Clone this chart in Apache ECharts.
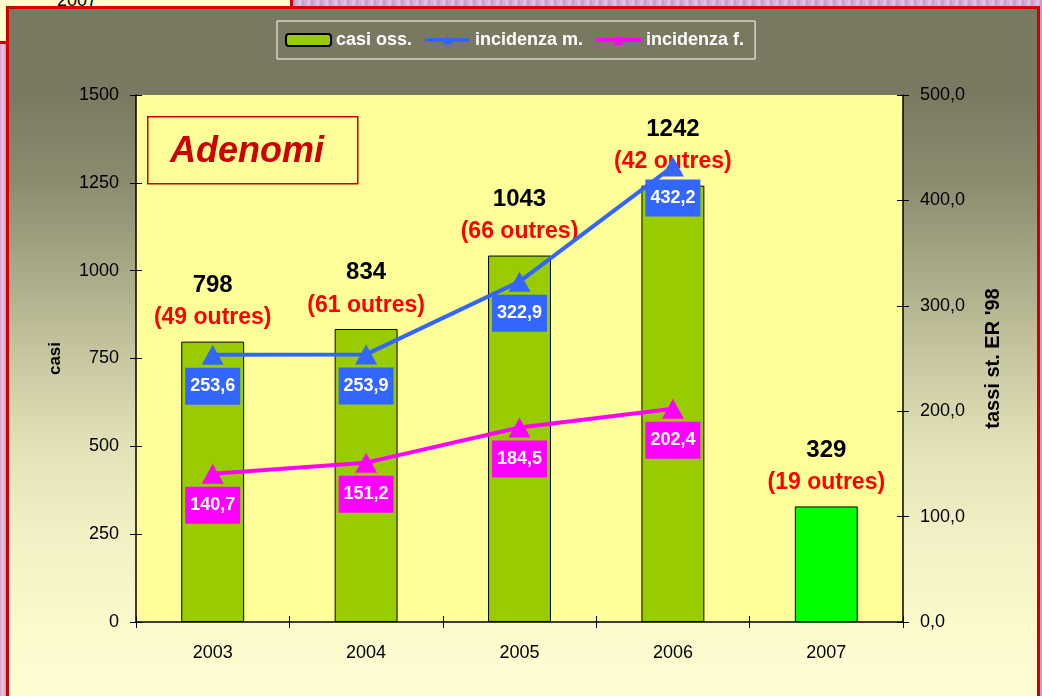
<!DOCTYPE html>
<html>
<head>
<meta charset="utf-8">
<title>Adenomi</title>
<script src="https://cdn.jsdelivr.net/npm/echarts@6/dist/echarts.min.js"></script>
<style>
html, body { margin: 0; padding: 0; }
body {
  width: 1042px; height: 696px; overflow: hidden; position: relative;
  background: repeating-linear-gradient(90deg, #d6a6d2 0px, #e9c6e4 3px, #c996c6 6px, #ddb4da 9px);
  font-family: "Liberation Sans", Arial, sans-serif;
}
.old-box {
  position: absolute; left: -3px; top: -3px; width: 296px; height: 47px;
  box-sizing: border-box; background: #ffffcc; border: 3px solid #cc0000;
  font-size: 18px; color: #000;
}
.old-box span { position: absolute; left: 57px; top: -10px; }
.panel {
  position: absolute; left: 6px; top: 6px; width: 1034px; height: 700px;
  box-sizing: border-box; border: 3px solid #d00000;
  background: linear-gradient(to bottom, #797961 0px, #7a7a62 85px, #8c8c70 175px,
    #c8c7a0 350px, #e4e2b8 440px, #f2f0c4 528px, #fbfacc 615px, #fffdd4 690px);
}
#chart { position: absolute; left: 0; top: 0; width: 1042px; height: 696px; }
</style>
</head>
<body>
<div class="old-box"><span>2007</span></div>
<div class="panel"></div>
<div id="chart"></div>
<script>
// dati
const anni = ['2003', '2004', '2005', '2006', '2007'];
const casiOss = [798, 834, 1043, 1242, 329];
const outres = [49, 61, 66, 42, 19];
const incidenzaM = [253.6, 253.9, 322.9, 432.2];
const incidenzaF = [140.7, 151.2, 184.5, 202.4];

const FONT = '"Liberation Sans", Arial, sans-serif';
const virgola = (v) => v.toFixed(1).replace('.', ',');

const chart = echarts.init(document.getElementById('chart'));

// barre: l'ultima (2007) verde chiaro
const barData = casiOss.map((v, i) => ({
  value: v,
  itemStyle: i === anni.length - 1 ? { color: '#00ff00' } : undefined,
}));

// etichetta del punto della linea (riquadro colorato sotto il triangolo)
function lineLabel(color) {
  return {
    show: true,
    position: 'bottom',
    distance: 3,
    backgroundColor: color,
    color: '#fff',
    fontFamily: FONT,
    fontWeight: 'bold',
    fontSize: 18,
    lineHeight: 19,
    padding: [9, 5],
    formatter: (p) => virgola(p.value),
  };
}

// tacche che attraversano l'asse: secondo grid identico con tacche interne
const gridBox = { left: 136, right: 139, top: 95, bottom: 74 };
const tickIn = { show: true, inside: true, length: 6, lineStyle: { color: '#000' } };
const tickOut = { show: true, length: 6, lineStyle: { color: '#000' } };

chart.setOption({
  animation: false,
  textStyle: { fontFamily: FONT },
  legend: {
    data: ['casi oss.', 'incidenza m.', 'incidenza f.'],
    left: 277,
    top: 21,
    padding: [10, 11, 10, 8],
    borderColor: '#fff',
    borderWidth: 1,
    itemWidth: 45,
    itemHeight: 12,
    itemGap: 11,
    lineStyle: { width: 4 },
    textStyle: { color: '#fff', fontWeight: 'bold', fontSize: 18, fontFamily: FONT },
  },
  grid: [
    Object.assign({ show: true, backgroundColor: '#ffff99', borderWidth: 0 }, gridBox),
    Object.assign({ show: false }, gridBox),
  ],
  xAxis: [
    {
      type: 'category',
      data: anni,
      z: 5,
      axisLine: { lineStyle: { color: '#000', width: 1.5 } },
      axisTick: tickOut,
      axisLabel: { color: '#000', fontSize: 18, margin: 22, fontFamily: FONT },
    },
    {
      type: 'category',
      gridIndex: 1,
      data: anni,
      position: 'bottom',
      z: 5,
      axisLine: { show: false },
      axisTick: tickIn,
      axisLabel: { show: false },
    },
  ],
  yAxis: [
    {
      type: 'value',
      name: 'casi',
      nameLocation: 'middle',
      nameGap: 72,
      nameTextStyle: { color: '#000', fontWeight: 'bold', fontSize: 17, fontFamily: FONT },
      min: 0,
      max: 1500,
      interval: 250,
      position: 'left',
      z: 5,
      splitLine: { show: false },
      axisLine: { show: true, lineStyle: { color: '#000', width: 1.5 } },
      axisTick: tickOut,
      axisLabel: { color: '#000', fontSize: 18, margin: 17, fontFamily: FONT, formatter: (v) => String(v) },
    },
    {
      type: 'value',
      name: "tassi st. ER '98",
      nameLocation: 'middle',
      nameGap: 80,
      nameTextStyle: { color: '#000', fontWeight: 'bold', fontSize: 20, fontFamily: FONT },
      min: 0,
      max: 500,
      interval: 100,
      position: 'right',
      z: 5,
      splitLine: { show: false },
      axisLine: { show: true, lineStyle: { color: '#000', width: 1.5 } },
      axisTick: tickOut,
      axisLabel: { color: '#000', fontSize: 18, margin: 17, fontFamily: FONT, formatter: virgola },
    },
    {
      type: 'value',
      gridIndex: 1,
      min: 0, max: 1500, interval: 250,
      position: 'left',
      z: 5,
      splitLine: { show: false },
      axisLine: { show: false },
      axisTick: tickIn,
      axisLabel: { show: false },
    },
    {
      type: 'value',
      gridIndex: 1,
      min: 0, max: 500, interval: 100,
      position: 'right',
      z: 5,
      splitLine: { show: false },
      axisLine: { show: false },
      axisTick: tickIn,
      axisLabel: { show: false },
    },
  ],
  graphic: [
    {
      type: 'rect',
      left: 147,
      top: 116,
      shape: { width: 210, height: 67 },
      style: { fill: '#ffff99', stroke: '#cc0000', lineWidth: 1.5 },
      z: 10,
    },
    {
      type: 'text',
      left: 170,
      top: 134,
      style: {
        text: 'Adenomi',
        fill: '#cc0000',
        font: 'italic bold 36px ' + FONT,
      },
      z: 11,
    },
  ],
  series: [
    {
      name: 'casi oss.',
      type: 'bar',
      data: barData,
      barWidth: '41%',
      itemStyle: { color: '#99cc00', borderColor: '#000', borderWidth: 1 },
      label: {
        show: true,
        position: 'top',
        distance: 7,
        formatter: (p) => '{n|' + p.value + '}\n{o|(' + outres[p.dataIndex] + ' outres)}',
        rich: {
          n: { color: '#000', fontWeight: 'bold', fontSize: 24, lineHeight: 33, fontFamily: FONT },
          o: { color: '#ff0000', fontWeight: 'bold', fontSize: 23, lineHeight: 33, fontFamily: FONT },
        },
      },
      z: 2,
    },
    {
      name: 'incidenza m.',
      type: 'line',
      yAxisIndex: 1,
      data: incidenzaM,
      symbol: 'triangle',
      symbolSize: [22, 20],
      color: '#3366ff',
      lineStyle: { color: '#3366ff', width: 4 },
      itemStyle: { color: '#3366ff' },
      label: lineLabel('#3366ff'),
      z: 3,
    },
    {
      name: 'incidenza f.',
      type: 'line',
      yAxisIndex: 1,
      data: incidenzaF,
      symbol: 'triangle',
      symbolSize: [22, 20],
      color: '#ff00ff',
      lineStyle: { color: '#ff00ff', width: 4 },
      itemStyle: { color: '#ff00ff' },
      label: lineLabel('#ff00ff'),
      z: 3,
    },
  ],
});
</script>
</body>
</html>
